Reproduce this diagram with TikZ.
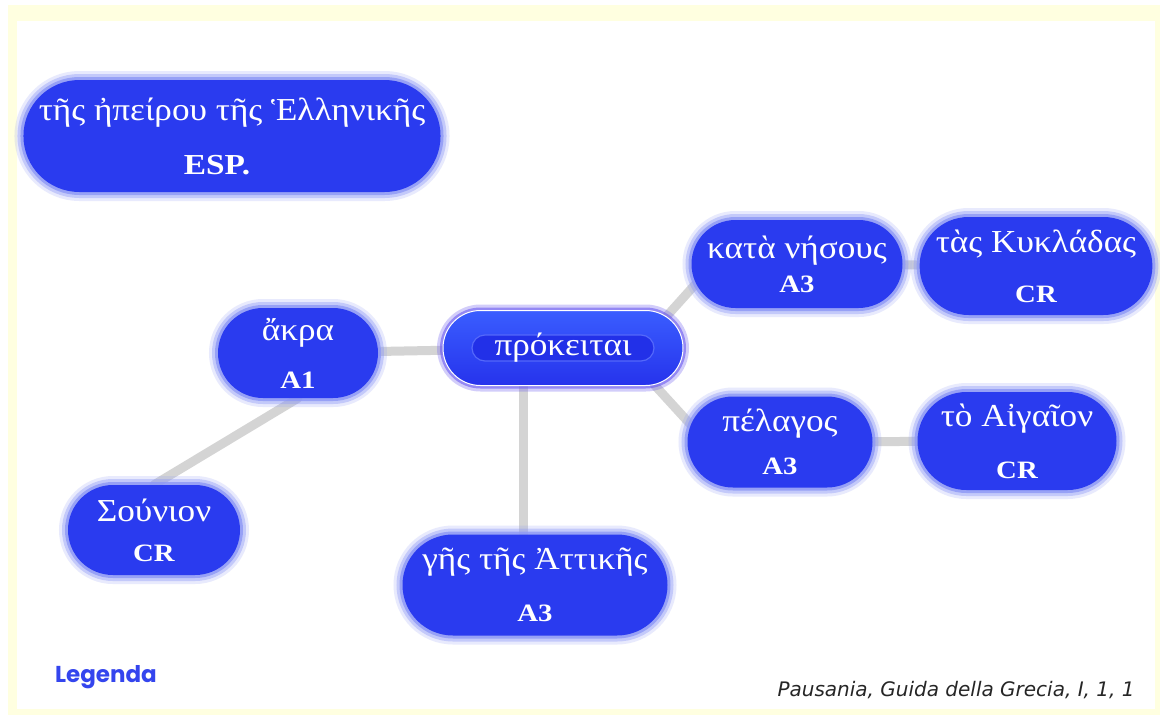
\documentclass[tikz,border=0pt]{standalone}
\usepackage{fontspec}
\setmainfont{Liberation Serif}
\newfontfamily\legfont{Poppins}
\newfontfamily\srcfont{DejaVu Sans}
\usetikzlibrary{positioning,shapes.misc,backgrounds,calc}
\definecolor{boxblue}  {HTML}{2A3BEF}
\definecolor{halo}     {HTML}{8D98F6}
\definecolor{corehalo} {HTML}{6B5AF0}
\definecolor{coretop}  {HTML}{3A5DFF}
\definecolor{corebot}  {HTML}{2633EC}
\definecolor{coreinner}{HTML}{2230E8}
\definecolor{ringblue} {HTML}{5468FA}
\definecolor{linkgray} {HTML}{D4D4D4}
\definecolor{frameyel} {HTML}{FFFFE0}
\definecolor{legblue}  {HTML}{3445EE}
\newcommand\gkfont{\fontsize{32}{36}\selectfont\addfontfeature{FakeStretch=1.1}}
\newcommand\lbfont{\fontsize{25}{28}\selectfont\bfseries\addfontfeature{FakeStretch=1.15}}
\tikzset{
  >=stealth,
  % --- nodes
  glow/.style  = {preaction={draw=halo, line width=18pt, opacity=0.2},
                  preaction={draw=halo, line width=12pt, opacity=0.4},
                  preaction={draw=halo, line width=6pt, opacity=0.8}},
  topic/.style = {rounded rectangle, fill=boxblue, text=white, align=center,
                  inner sep=0pt, glow, font=\gkfont},
  core/.style  = {rounded rectangle, top color=coretop, bottom color=corebot,
                  draw=white, line width=1pt, text=white, inner sep=0pt,
                  font=\gkfont,
                  preaction={draw=corehalo, line width=12pt, opacity=0.3},
                  preaction={draw=corehalo, line width=6pt, opacity=0.6}},
  ring/.style  = {draw=ringblue, fill=coreinner, line width=1.2pt, rounded corners=13pt},
  legend/.style= {font=\legfont\bfseries\fontsize{23}{26}\selectfont, text=legblue},
  source/.style= {font=\srcfont\itshape\fontsize{20}{23}\selectfont, text=black!85},
  % --- edges
  link/.style  = {draw=linkgray, line width=9pt, line cap=round},
}

\begin{document}
\begin{tikzpicture}[x=1pt,y=-1pt]
  \useasboundingbox (0,0) rectangle (1160,715);

  % the concepts
  \node[topic, minimum width=400, minimum height=112] (realm) at (232,136)
    {τῆς ἠπείρου τῆς Ἑλληνικῆς\\[18pt]{\lbfont\fontsize{29}{32}\selectfont ESP.}\hspace*{30pt}};
  \node[core, minimum width=240, minimum height=75,
        path picture={\draw[ring] ($(path picture bounding box.center)+(-91,-13)$)
                      rectangle ++(182,26);}] (core) at (563,348) {πρόκειται};
  \node[topic, minimum width=160, minimum height=90] (akra) at (298,353)
    {ἄκρα\\[12pt]{\lbfont A1}};
  \node[topic, minimum width=172, minimum height=90] (sounion) at (154,530)
    {Σούνιον\\[4pt]{\lbfont CR}};
  \node[topic, minimum width=265, minimum height=101] (attica) at (535,585)
    {γῆς τῆς Ἀττικῆς\\[16pt]{\lbfont A3}};
  \node[topic, minimum width=211, minimum height=88] (islands) at (797,264)
    {κατὰ νήσους\\[-2pt]{\lbfont A3}};
  \node[topic, minimum width=223, minimum height=98] (cyclades) at (1036,266)
    {τὰς Κυκλάδας\\[14pt]{\lbfont CR}};
  \node[topic, minimum width=185, minimum height=91] (sea) at (780,442)
    {πέλαγος\\[7pt]{\lbfont A3}};
  \node[topic, minimum width=199, minimum height=98] (aegean) at (1017,441)
    {τὸ Αἰγαῖον\\[16pt]{\lbfont CR}};

  \node[legend] (leg) at (106,677) {Legenda};
  \node[source, anchor=east] (src) at (1138,690) {Pausania, Guida della Grecia, I, 1, 1};

  \begin{scope}[on background layer]
    % frame
    \fill[frameyel] (8,5) rectangle (1160,715);
    \fill[white] (17,21) rectangle (1155,709);
    % links
    \draw[link] (akra) -- (core);
    \draw[link] (akra.south) -- (sounion.north);
    \draw[link] (core.-136) -- (core.-136 |- attica.north);
    \draw[link] (core.17) -- (islands.191);
    \draw[link] (core.-22) -- (sea.169);
    \draw[link] (islands) -- (cyclades);
    \draw[link] (sea) -- (aegean);
  \end{scope}
\end{tikzpicture}
\end{document}
